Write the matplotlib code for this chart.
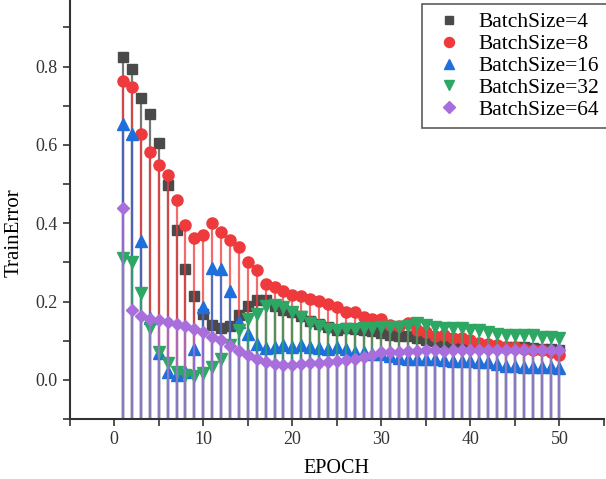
import numpy as np
import matplotlib
matplotlib.use('Agg')
import matplotlib.pyplot as plt

plt.rcParams['font.family'] = ['Liberation Serif', 'DejaVu Serif']

epochs = np.arange(1, 51)
bs4 = [0.824, 0.795, 0.721, 0.678, 0.606, 0.498, 0.383, 0.283, 0.215, 0.169,
       0.140, 0.133, 0.138, 0.166, 0.189, 0.205, 0.205, 0.189, 0.178, 0.172,
       0.163, 0.150, 0.143, 0.134, 0.127, 0.133, 0.129, 0.127, 0.125, 0.119,
       0.115, 0.112, 0.113, 0.106, 0.102, 0.098, 0.096, 0.094, 0.092, 0.090,
       0.088, 0.086, 0.085, 0.085, 0.084, 0.083, 0.082, 0.080, 0.078, 0.075]
bs8 = [0.763, 0.749, 0.628, 0.581, 0.548, 0.523, 0.460, 0.396, 0.363, 0.370,
       0.400, 0.377, 0.358, 0.339, 0.301, 0.281, 0.246, 0.237, 0.227, 0.216,
       0.213, 0.206, 0.201, 0.193, 0.186, 0.172, 0.172, 0.161, 0.155, 0.155,
       0.140, 0.138, 0.145, 0.127, 0.122, 0.112, 0.115, 0.108, 0.106, 0.102,
       0.095, 0.091, 0.090, 0.085, 0.083, 0.080, 0.077, 0.075, 0.071, 0.064]
bs16 = [0.654, 0.627, 0.355, 0.157, 0.068, 0.021, 0.013, 0.019, 0.078, 0.187,
        0.286, 0.283, 0.228, 0.148, 0.116, 0.092, 0.082, 0.085, 0.088, 0.085,
        0.088, 0.085, 0.082, 0.080, 0.085, 0.080, 0.072, 0.070, 0.067, 0.066,
        0.061, 0.055, 0.054, 0.054, 0.053, 0.052, 0.050, 0.049, 0.048, 0.047,
        0.046, 0.045, 0.040, 0.036, 0.035, 0.034, 0.034, 0.033, 0.032, 0.031]
bs32 = [0.310, 0.301, 0.221, 0.132, 0.072, 0.044, 0.021, 0.013, 0.010, 0.017,
        0.034, 0.053, 0.089, 0.128, 0.155, 0.167, 0.189, 0.190, 0.185, 0.174,
        0.161, 0.146, 0.138, 0.129, 0.127, 0.129, 0.129, 0.132, 0.132, 0.134,
        0.134, 0.134, 0.138, 0.144, 0.140, 0.136, 0.132, 0.132, 0.132, 0.127,
        0.127, 0.123, 0.117, 0.115, 0.115, 0.115, 0.115, 0.110, 0.109, 0.106]
bs64 = [0.439, 0.178, 0.163, 0.155, 0.153, 0.147, 0.142, 0.137, 0.129, 0.121,
        0.110, 0.101, 0.087, 0.074, 0.064, 0.053, 0.045, 0.040, 0.037, 0.037,
        0.040, 0.042, 0.043, 0.045, 0.048, 0.050, 0.054, 0.059, 0.064, 0.070,
        0.072, 0.072, 0.073, 0.074, 0.075, 0.075, 0.074, 0.075, 0.076, 0.076,
        0.075, 0.076, 0.075, 0.076, 0.075, 0.075, 0.076, 0.075, 0.075, 0.075]

series = [bs4, bs8, bs16, bs32, bs64]
labels = ['BatchSize=4', 'BatchSize=8', 'BatchSize=16', 'BatchSize=32', 'BatchSize=64']
colors = ['#4a4a4a', '#ee3a3c', '#1e6fdc', '#2ea764', '#a86fdc']
markers = ['s', 'o', '^', 'v', 'D']
sizes = [7, 8, 8, 8, 6.5]

fig = plt.figure(figsize=(6.06, 4.79), dpi=100)
ax = fig.add_axes([69.7 / 606, 60 / 479, (604 - 69.7) / 606, 419 / 479])
ybase = -0.1

handles = []
for vals, lab, c, m, s in zip(series, labels, colors, markers, sizes):
    ax.vlines(epochs, ybase, vals, colors=c, lw=1.6, alpha=0.75)
    h, = ax.plot(epochs, vals, ls='none', marker=m, ms=s, color=c, mec=c, label=lab)
    handles.append(h)

ax.set_xlim(-5, 55)
ax.set_ylim(-0.1, 0.97)
xt = np.arange(-5, 56, 5)
ax.set_xticks(xt)
ax.set_xticklabels([str(v) if v % 10 == 0 and 0 <= v <= 50 else '' for v in xt])
yt = np.arange(-0.1, 0.95, 0.1)
ax.set_yticks(yt)
ax.set_yticklabels(['%.1f' % v if abs(round(v * 10)) % 2 == 0 else '' for v in yt])
ax.tick_params(direction='out', length=5, width=1.2, labelsize=13, colors='#333333')

for side in ['top', 'right']:
    ax.spines[side].set_visible(False)
for side in ['left', 'bottom']:
    ax.spines[side].set_linewidth(1.5)
    ax.spines[side].set_color('#333333')

ax.set_xlabel('EPOCH', fontsize=14.5, labelpad=8)
ax.set_ylabel('TrainError', fontsize=15)
ax.yaxis.set_label_coords(-0.086, 0.444)

leg = fig.legend(handles=handles, loc='upper left', bbox_to_anchor=(422 / 606, 1 - 4 / 479),
                 fontsize=15.5, frameon=True, fancybox=False, edgecolor='#333333',
                 handletextpad=0.55, borderpad=0.39, labelspacing=0.08,
                 markerscale=0.9, handlelength=1.7, borderaxespad=0)
leg.get_frame().set_linewidth(1.2)

fig.savefig('out.png', dpi=100)
